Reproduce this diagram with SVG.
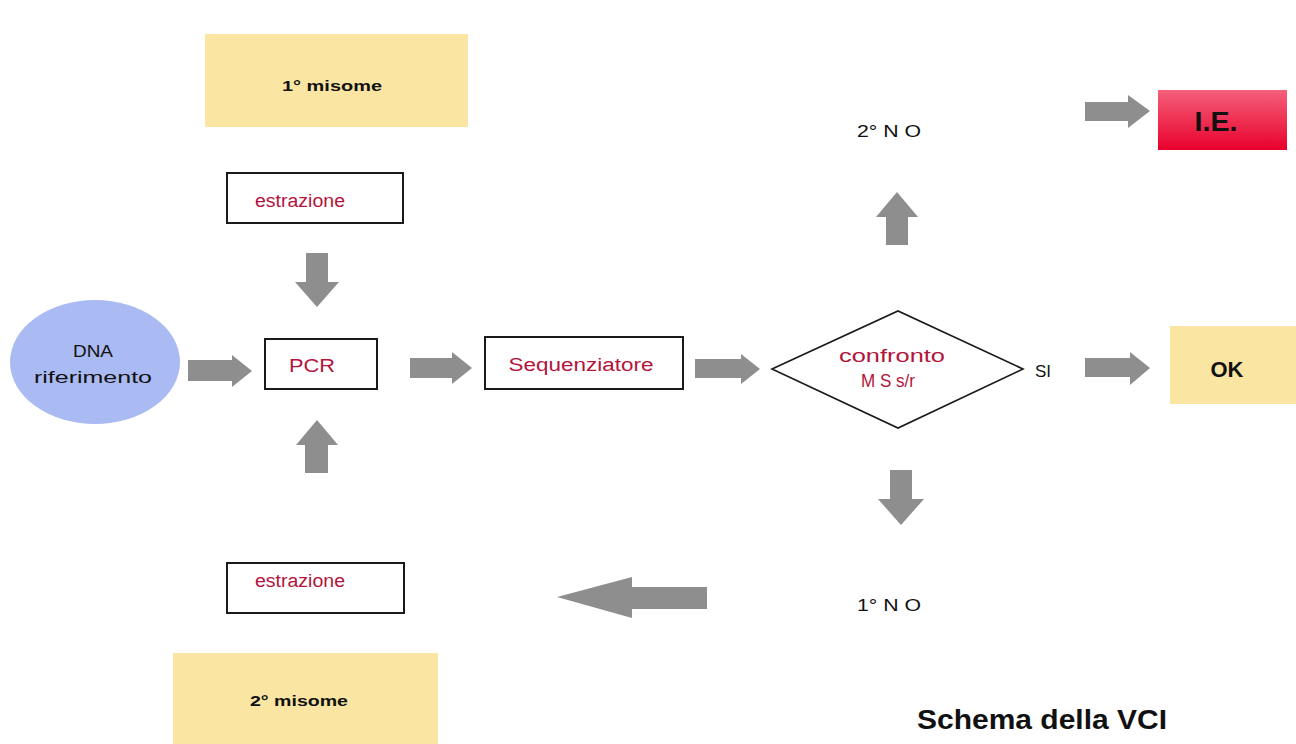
<svg xmlns="http://www.w3.org/2000/svg" width="1296" height="744" viewBox="0 0 1296 744">
<defs>
<linearGradient id="ieGrad" x1="0" y1="0" x2="0" y2="1">
<stop offset="0" stop-color="#f4607a"/>
<stop offset="1" stop-color="#e8002c"/>
</linearGradient>
<style>
.note{fill:#fae6a2}
.box{fill:#ffffff;stroke:#1a1a1a;stroke-width:2}
.lbl{font-family:"Liberation Sans",Arial,sans-serif;font-size:18px;fill:#b3143c;text-anchor:middle}
.blk{font-family:"Liberation Sans",Arial,sans-serif;font-size:17px;fill:#111;text-anchor:middle}
.bold{font-family:"Liberation Sans",Arial,sans-serif;font-weight:bold;fill:#111;text-anchor:middle}
.arr{fill:#8e8e8e}
</style>
</defs>
<rect width="1296" height="744" fill="#ffffff"/>

<g id="misone1"><rect class="note" x="205" y="34" width="263" height="93"/><text class="bold" x="332" y="91" font-size="15" textLength="100" lengthAdjust="spacingAndGlyphs">1° misome</text></g>
<g id="estrazione1"><rect class="box" x="227" y="173" width="176" height="50"/><text class="lbl" x="300" y="207" textLength="90" lengthAdjust="spacingAndGlyphs">estrazione</text></g>
<g id="dna"><ellipse cx="95" cy="362" rx="85" ry="62" fill="#aabaf2"/><text class="blk" x="93" y="357" font-size="18" textLength="40" lengthAdjust="spacingAndGlyphs">DNA</text><text class="blk" x="93" y="383" font-size="18" textLength="118" lengthAdjust="spacingAndGlyphs">riferimento</text></g>
<g id="pcr"><rect class="box" x="265" y="339" width="112" height="50"/><text class="lbl" x="312" y="372" textLength="46" lengthAdjust="spacingAndGlyphs">PCR</text></g>
<g id="seq"><rect class="box" x="485" y="337" width="198" height="52"/><text class="lbl" x="581" y="371" textLength="145" lengthAdjust="spacingAndGlyphs">Sequenziatore</text></g>
<g id="confronto"><polygon points="772,369 898,311 1023,369 898,428" fill="#ffffff" stroke="#1a1a1a" stroke-width="1.6"/><text class="lbl" x="892" y="362" textLength="106" lengthAdjust="spacingAndGlyphs">confronto</text><text class="lbl" x="888" y="387" textLength="54" lengthAdjust="spacingAndGlyphs">M S s/r</text></g>
<g id="si"><text class="blk" x="1043" y="377">SI</text></g>
<g id="ok"><rect class="note" x="1170" y="326" width="126" height="78"/><text class="bold" x="1227" y="377" font-size="22">OK</text></g>
<g id="no2"><text class="blk" x="889" y="137" textLength="64" lengthAdjust="spacingAndGlyphs">2° N O</text></g>
<g id="ie"><rect x="1158" y="90" width="129" height="60" fill="url(#ieGrad)"/><text class="bold" x="1216" y="131" font-size="27" textLength="43" lengthAdjust="spacingAndGlyphs">I.E.</text></g>
<g id="no1"><text class="blk" x="889" y="611" textLength="64" lengthAdjust="spacingAndGlyphs">1° N O</text></g>
<g id="estrazione2"><rect class="box" x="227" y="563" width="177" height="50"/><text class="lbl" x="300" y="587" textLength="90" lengthAdjust="spacingAndGlyphs">estrazione</text></g>
<g id="misone2"><rect class="note" x="173" y="653" width="265" height="91"/><text class="bold" x="299" y="706" font-size="15" textLength="98" lengthAdjust="spacingAndGlyphs">2° misome</text></g>
<g id="title"><text class="bold" x="1042" y="729" font-size="28" textLength="250" lengthAdjust="spacingAndGlyphs">Schema della VCI</text></g>

<g id="connectors">
<polygon class="arr" points="306,253 328,253 328,282 339,282 317,307 295,282 306,282"/>
<polygon class="arr" points="305,473 328,473 328,445 338,445 317,420 296,445 305,445"/>
<polygon class="arr" points="188,360 232,360 232,355 252,371 232,387 232,381 188,381"/>
<polygon class="arr" points="410,358 452,358 452,352 472,368 452,384 452,378 410,378"/>
<polygon class="arr" points="695,359 741,359 741,354 760,369 741,384 741,378 695,378"/>
<polygon class="arr" points="1085,358 1130,358 1130,352 1150,368 1130,385 1130,377 1085,377"/>
<polygon class="arr" points="1085,102 1128,102 1128,95 1150,111 1128,128 1128,121 1085,121"/>
<polygon class="arr" points="886,245 908,245 908,217 918,217 897,192 876,217 886,217"/>
<polygon class="arr" points="890,470 912,470 912,499 924,499 901,525 878,499 890,499"/>
<polygon class="arr" points="707,587 632,587 632,577 557,597 632,618 632,609 707,609"/>
</g>
</svg>
